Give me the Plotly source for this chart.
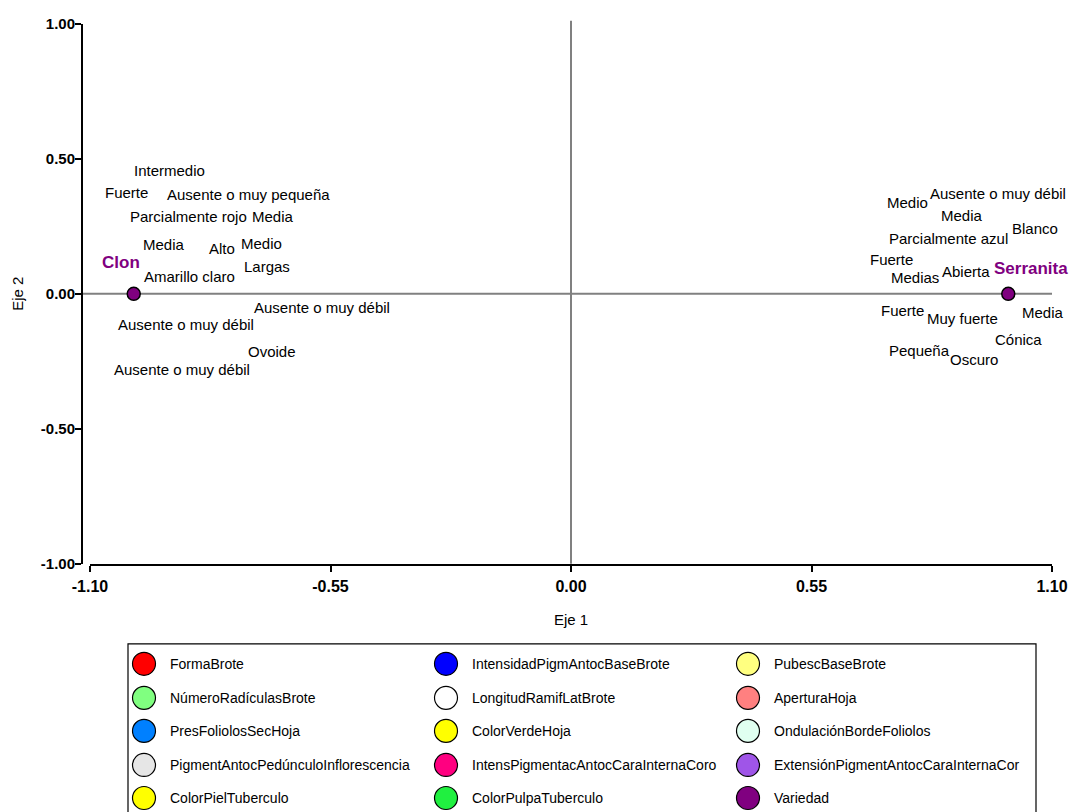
import plotly.graph_objects as go

# ---------------- data ----------------
variables = [
    "FormaBrote", "IntensidadPigmAntocBaseBrote", "PubescBaseBrote",
    "NúmeroRadículasBrote", "LongitudRamifLatBrote", "AperturaHoja",
    "PresFoliolosSecHoja", "ColorVerdeHoja", "OndulaciónBordeFoliolos",
    "PigmentAntocPedúnculoInflorescencia", "IntensPigmentacAntocCaraInternaCoro",
    "ExtensiónPigmentAntocCaraInternaCor", "ColorPielTuberculo", "ColorPulpaTuberculo",
]
clon_categories = [
    "Ovoide", "Ausente o muy débil", "Fuerte", "Alto", "Largas", "Media",
    "Ausente o muy pequeña", "Medio", "Media", "Ausente o muy débil",
    "Ausente o muy débil", "Intermedio", "Parcialmente rojo", "Amarillo claro",
]
serranita_categories = [
    "Cónica", "Fuerte", "Ausente o muy débil", "Medio", "Medias", "Abierta",
    "Media", "Oscuro", "Fuerte", "Muy fuerte", "Media", "Pequeña",
    "Parcialmente azul", "Blanco",
]
clon_cat_eje1 = [-1.00, -1.00, -1.00, -1.00, -1.00, -1.00, -1.00,
                 -1.00, -1.00, -1.00, -1.00, -1.00, -1.00, -1.00]
clon_cat_eje2 = [0.00, 0.00, 0.00, 0.00, 0.00, 0.00, 0.00,
                 0.00, 0.00, 0.00, 0.00, 0.00, 0.00, 0.00]
serr_cat_eje1 = [1.00, 1.00, 1.00, 1.00, 1.00, 1.00, 1.00,
                 1.00, 1.00, 1.00, 1.00, 1.00, 1.00, 1.00]
serr_cat_eje2 = [0.00, 0.00, 0.00, 0.00, 0.00, 0.00, 0.00,
                 0.00, 0.00, 0.00, 0.00, 0.00, 0.00, 0.00]
variety_names = ["Clon", "Serranita"]
variety_eje1 = [-1.00, 1.00]
variety_eje2 = [0.00, 0.00]
variety_label = "Variedad"

x_ticks = [-1.10, -0.55, 0.00, 0.55, 1.10]
y_ticks = [-1.00, -0.50, 0.00, 0.50, 1.00]

# ---------------- styles / label placement (screen pixels) ----------------
var_colors = [
    "#FF0000", "#0000FF", "#FFFF80", "#80FF80", "#FFFFFF", "#FF8080",
    "#0080FF", "#FFFF00", "#E0FFF0", "#E6E6E6", "#FF0080", "#9F55E8",
    "#FFFF00", "#20F040",
]
variety_color = "#800080"

clon_dx = [138, 188, -7, 88, 133, 30, 115, 128, 139, 52, 48, 36, 55, 56]
clon_dy = [-58, -15, 99, 44, 26, 48, 97, 49, 75, -31, -76, 121, 75, 16]
serr_dx = [10, -106, -10, -101, -93, -42, -46, -34, -117, -46, 35, -89, -60, 27]
serr_dy = [-46, -17, 98, 89, 15, 21, 76, -66, 33, -25, -19, -57, 54, 64]
variety_dx = [-13, 23]
variety_dy = [30, 24]
label_dy_fix = 1

FONT = "Liberation Sans, Arial, sans-serif"

# the captured page is squeezed vertically by this factor; compensate
SY = 812 / 821.0


def vy(px):
    return px / SY


W, H = 1077, 821
ML = 82                # y-axis line
PLOT_L = 90            # x = -1.10
PLOT_R = 1052          # x = 1.10
MT = vy(24)            # y = 1.00
Y_BOT = vy(563)        # y = -1.00
MR = W - PLOT_R
MB = 0
PW = W - ML - MR
PH = H - MT - MB

fig = go.Figure()

# category points (same coordinates as the variety points, drawn underneath)
for i, v in enumerate(variables):
    fig.add_trace(go.Scatter(
        x=[clon_cat_eje1[i], serr_cat_eje1[i]],
        y=[clon_cat_eje2[i], serr_cat_eje2[i]],
        mode="markers", name=v, showlegend=False,
        marker=dict(size=9, color=var_colors[i], line=dict(color="black", width=1)),
        hoverinfo="skip",
    ))

fig.add_trace(go.Scatter(
    x=variety_eje1, y=variety_eje2, mode="markers", name=variety_label,
    showlegend=False,
    marker=dict(size=13, color=variety_color, line=dict(color="black", width=1.5)),
))

annotations = []
for i in range(len(variables)):
    annotations.append(dict(
        x=clon_cat_eje1[i], y=clon_cat_eje2[i], xref="x", yref="y",
        text=clon_categories[i], showarrow=False,
        xshift=clon_dx[i], yshift=vy(clon_dy[i] + label_dy_fix),
        font=dict(family=FONT, size=15, color="#000000"),
    ))
    annotations.append(dict(
        x=serr_cat_eje1[i], y=serr_cat_eje2[i], xref="x", yref="y",
        text=serranita_categories[i], showarrow=False,
        xshift=serr_dx[i], yshift=vy(serr_dy[i] + label_dy_fix),
        font=dict(family=FONT, size=15, color="#000000"),
    ))
for j, nm in enumerate(variety_names):
    annotations.append(dict(
        x=variety_eje1[j], y=variety_eje2[j], xref="x", yref="y",
        text="<b>" + nm + "</b>", showarrow=False,
        xshift=variety_dx[j], yshift=vy(variety_dy[j] + label_dy_fix),
        font=dict(family=FONT, size=17, color=variety_color),
    ))

# axis titles
annotations.append(dict(
    x=0.5, xref="x domain", y=0, yref="y domain", yshift=-vy(618 - 563),
    text="Eje 1", showarrow=False, yanchor="middle",
    font=dict(family=FONT, size=15, color="black"),
))
annotations.append(dict(
    x=0, xref="paper", xshift=18 - ML, y=0.5, yref="y domain",
    text="Eje 2", showarrow=False, textangle=-90, xanchor="center", yanchor="middle",
    font=dict(family=FONT, size=15, color="black"),
))

# ---------------- custom legend (3 columns x 5 rows) ----------------
legend_items = variables + [variety_label]
legend_colors = var_colors + [variety_color]
leg_box_left, leg_box_right, leg_box_top = 128, 1036, vy(643)
leg_col_circle = [16, 318, 620]
leg_text_offset = 24
leg_row_y = [vy(20), vy(54), vy(87), vy(121), vy(154)]
leg_cols = [k % 3 for k in range(len(legend_items))]
leg_rows = [k // 3 for k in range(len(legend_items))]

fig.add_trace(go.Scatter(
    x=[leg_col_circle[c] for c in leg_cols],
    y=[leg_row_y[r] for r in leg_rows],
    mode="markers", xaxis="x2", yaxis="y2", showlegend=False,
    marker=dict(size=23, color=legend_colors, line=dict(color="black", width=1.2)),
    hoverinfo="skip",
))
for k, name in enumerate(legend_items):
    annotations.append(dict(
        x=leg_col_circle[leg_cols[k]] + leg_text_offset, y=leg_row_y[leg_rows[k]],
        xref="x2", yref="y2", xanchor="left", yanchor="middle",
        text=name, showarrow=False,
        font=dict(family=FONT, size=14, color="black"),
    ))

shapes = [
    # zero lines
    dict(type="line", xref="paper", yref="y", x0=0, x1=1, y0=0, y1=0,
         line=dict(color="#808080", width=2), layer="below"),
    dict(type="line", xref="x", yref="y domain", x0=0, x1=0, y0=0, y1=1.006,
         line=dict(color="#808080", width=2), layer="below"),
    # legend box
    dict(type="rect", xref="x2 domain", yref="y2 domain", x0=0, x1=1, y0=-0.2, y1=1,
         line=dict(color="black", width=1.2), fillcolor="rgba(0,0,0,0)"),
]

ydom0 = (H - Y_BOT) / PH
xdom0 = (PLOT_L - ML) / PW

fig.update_layout(
    width=W, height=H,
    margin=dict(l=ML, r=MR, t=MT, b=MB, pad=0),
    paper_bgcolor="white", plot_bgcolor="white",
    showlegend=False,
    xaxis=dict(
        domain=[xdom0, 1], range=[-1.10, 1.10], tickvals=x_ticks,
        ticktext=["%.2f" % v for v in x_ticks],
        showgrid=False, zeroline=False, showline=True, linecolor="black", linewidth=2,
        ticks="outside", ticklen=6, tickwidth=2, tickcolor="black",
        ticklabelstandoff=1,
        tickfont=dict(family=FONT, size=16, color="black", weight="bold"),
        anchor="y",
    ),
    yaxis=dict(
        domain=[ydom0, 1], range=[-1.00, 1.00], tickvals=y_ticks,
        ticktext=["%.2f" % v for v in y_ticks],
        showgrid=False, zeroline=False, showline=True, linecolor="black", linewidth=2,
        ticks="outside", ticklen=6, tickwidth=2, tickcolor="black",
        ticklabelstandoff=-3,
        tickfont=dict(family=FONT, size=15, color="black", weight="bold"),
        anchor="free", position=0,
    ),
    xaxis2=dict(domain=[(leg_box_left - ML) / PW, (leg_box_right - ML) / PW],
                range=[0, leg_box_right - leg_box_left], visible=False, anchor="y2"),
    yaxis2=dict(domain=[0, (H - leg_box_top) / PH],
                range=[H - leg_box_top, 0], visible=False, anchor="x2"),
    annotations=annotations,
    shapes=shapes,
)

fig.write_html(
    "out.html",
    config={"displayModeBar": False},
    post_script="document.body.style.margin='0px';document.body.style.overflow='hidden';",
)
